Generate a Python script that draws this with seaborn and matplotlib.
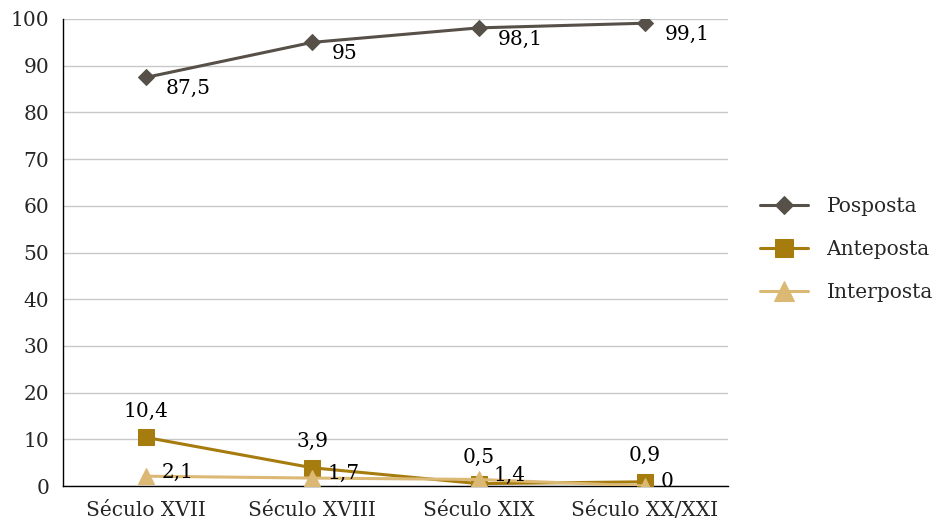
import matplotlib
matplotlib.use("Agg")
import matplotlib.pyplot as plt
import seaborn as sns
import pandas as pd
import numpy as np
from matplotlib.ticker import FixedLocator

categories = ["Século XVII", "Século XVIII", "Século XIX", "Século XX/XXI"]
posposta = [87.5, 95, 98.1, 99.1]
anteposta = [10.4, 3.9, 0.5, 0.9]
interposta = [2.1, 1.7, 1.4, 0]
series_names = ["Posposta", "Anteposta", "Interposta"]
y_ticks = [0, 10, 20, 30, 40, 50, 60, 70, 80, 90, 100]

colors = {"Posposta": "#575049", "Anteposta": "#A67C0E", "Interposta": "#DBB874"}
markers = {"Posposta": "D", "Anteposta": "s", "Interposta": "^"}
msizes = {"Posposta": 8, "Anteposta": 11, "Interposta": 12}
zorders = {"Posposta": 3, "Anteposta": 3, "Interposta": 4}

sns.set_style("white")
plt.rcParams["font.family"] = ["DejaVu Serif"]
FS = 14.5

rows = []
for name, vals in zip(series_names, [posposta, anteposta, interposta]):
    for i, v in enumerate(vals):
        rows.append({"x": i, "cat": categories[i], "value": v, "serie": name})
df = pd.DataFrame(rows)

fig = plt.figure(figsize=(9.37, 5.22), dpi=100)
ax = fig.add_axes([63 / 937, 1 - 486 / 522, (728 - 63) / 937, (486 - 19) / 522])

for name in series_names:
    sub = df[df["serie"] == name]
    sns.lineplot(data=sub, x="x", y="value", ax=ax, color=colors[name],
                 marker=markers[name], markersize=msizes[name],
                 markeredgecolor=colors[name], linewidth=2.2, label=name,
                 zorder=zorders[name])

# labels
offsets = {"Posposta": (14, -8), "Anteposta": (0, 12), "Interposta": (11, 3)}
has = {"Posposta": ("left", "center"), "Anteposta": ("center", "bottom"), "Interposta": ("left", "center")}
for name, vals in zip(series_names, [posposta, anteposta, interposta]):
    for i, v in enumerate(vals):
        lab = ("%g" % v).replace(".", ",")
        ax.annotate(lab, (i, v), xytext=offsets[name], textcoords="offset points",
                    ha=has[name][0], va=has[name][1], fontsize=FS, color="#000000", zorder=5)

ax.set_xlim(-0.5, 3.5)
ax.set_ylim(0, 100)
ax.set_yticks(y_ticks)
ax.set_yticklabels([str(t) for t in y_ticks], fontsize=FS)
ax.set_xticks(range(4))
ax.set_xticklabels(categories, fontsize=FS)
ax.xaxis.set_minor_locator(FixedLocator([-0.5, 0.5, 1.5, 2.5, 3.5]))
ax.tick_params(axis="x", which="major", length=0, pad=11)
ax.tick_params(axis="x", which="minor", length=6, width=1, color="black", direction="out")
ax.tick_params(axis="y", length=6, width=1, color="black", direction="out", pad=4)
ax.grid(axis="y", color="#C8C8C8", linewidth=1)
ax.set_axisbelow(True)
for s in ["top", "right"]:
    ax.spines[s].set_visible(False)
for s in ["left", "bottom"]:
    ax.spines[s].set_color("black")
    ax.spines[s].set_linewidth(1)
ax.set_xlabel("")
ax.set_ylabel("")

leg = ax.legend(loc="center left", bbox_to_anchor=(1.036, 0.507), frameon=False,
                fontsize=FS, handlelength=2.4, labelspacing=1.2, handletextpad=0.9,
                borderaxespad=0, markerscale=1.2)

fig.savefig("out.png", dpi=100)
